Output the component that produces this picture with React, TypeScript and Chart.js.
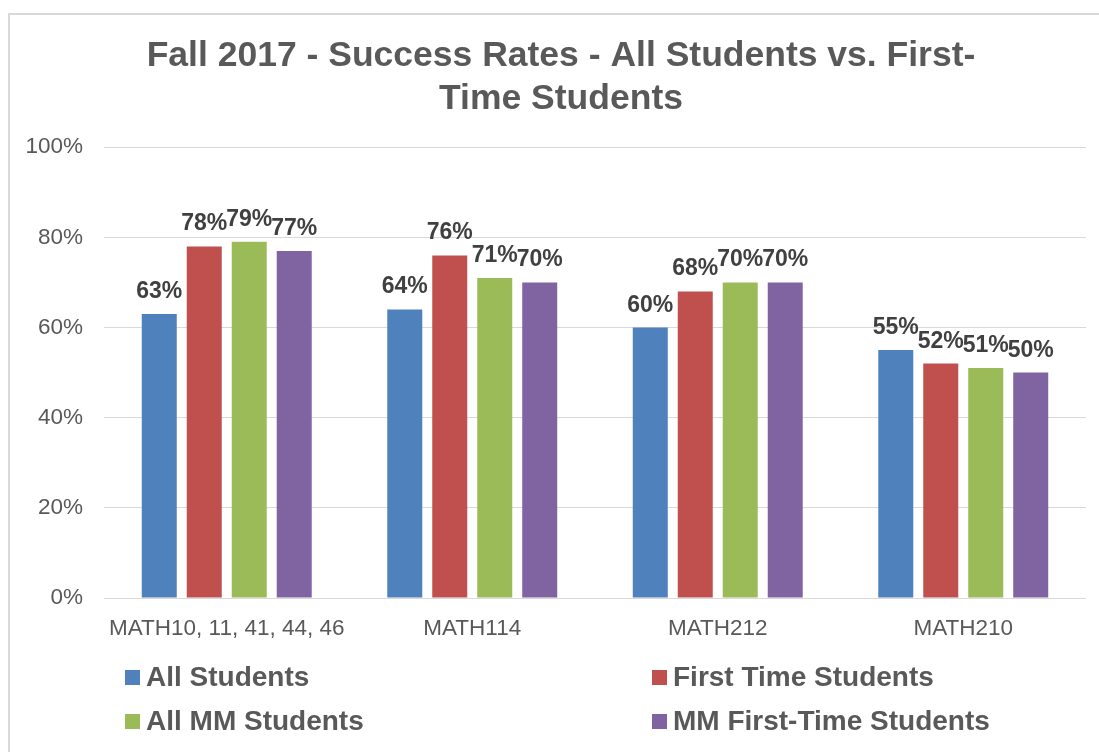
import React, { useEffect, useRef } from "react";
import { Chart, registerables } from "chart.js";

Chart.register(...registerables);

const categories = ["MATH10, 11, 41, 44, 46", "MATH114", "MATH212", "MATH210"];
const seriesNames = ["All Students", "First Time Students", "All MM Students", "MM First-Time Students"];
const allStudents = [63, 64, 60, 55];
const firstTimeStudents = [78, 76, 68, 52];
const allMMStudents = [79, 71, 70, 51];
const mmFirstTimeStudents = [77, 70, 70, 50];
const seriesColors = ["#4F81BD", "#C0504D", "#9BBB59", "#8064A2"];
const titleLines = ["Fall 2017 - Success Rates - All Students vs. First-", "Time Students"];
const yTicks = [0, 20, 40, 60, 80, 100];

const FONT = "'Liberation Sans', Arial, Helvetica, sans-serif";

const frameAndLabels = {
  id: "frameAndLabels",
  afterLayout(chart: any) {
    // shift the title's horizontal span so it is centred on the framed chart
    if (chart.titleBlock) {
      chart.titleBlock.left = 36;
    }
  },
  beforeDraw(chart: any) {
    const ctx = chart.ctx;
    ctx.save();
    ctx.fillStyle = "#ffffff";
    ctx.fillRect(0, 0, chart.width, chart.height);
    ctx.strokeStyle = "#d9d9d9";
    ctx.lineWidth = 2;
    ctx.strokeRect(9, 14, chart.width + 50, chart.height + 50);
    ctx.restore();
  },
  afterDatasetsDraw(chart: any) {
    const ctx = chart.ctx;
    ctx.save();
    ctx.font = `bold 23px ${FONT}`;
    ctx.fillStyle = "#404040";
    ctx.textAlign = "center";
    ctx.textBaseline = "alphabetic";
    chart.data.datasets.forEach((ds: any, i: number) => {
      const meta = chart.getDatasetMeta(i);
      meta.data.forEach((bar: any, j: number) => {
        ctx.fillText(`${ds.data[j]}%`, bar.x, bar.y - 16);
      });
    });
    ctx.restore();
  },
  afterDraw(chart: any) {
    const ctx = chart.ctx;
    ctx.save();
    ctx.font = `bold 28px ${FONT}`;
    ctx.textAlign = "left";
    ctx.textBaseline = "alphabetic";
    const cols = [125, 652];
    const rows = [686, 730];
    chart.data.datasets.forEach((ds: any, i: number) => {
      const x = cols[i % 2];
      const y = rows[Math.floor(i / 2)];
      ctx.fillStyle = ds.backgroundColor;
      ctx.fillRect(x, y - 16, 15, 15);
      ctx.fillStyle = "#595959";
      ctx.fillText(ds.label, x + 21, y);
    });
    ctx.restore();
  },
};

export default function App() {
  const ref = useRef<HTMLCanvasElement>(null);
  useEffect(() => {
    if (!ref.current) return;
    const seriesData = [allStudents, firstTimeStudents, allMMStudents, mmFirstTimeStudents];
    const chart = new Chart(ref.current, {
      type: "bar",
      data: {
        labels: categories,
        datasets: seriesNames.map((name, i) => ({
          label: name,
          data: seriesData[i],
          backgroundColor: seriesColors[i],
          borderWidth: 0,
          categoryPercentage: 0.733,
          barPercentage: 0.778,
        })),
      },
      options: {
        responsive: false,
        animation: false,
        devicePixelRatio: 1,
        layout: { padding: { left: 0, right: 13, top: 0, bottom: 0 } },
        plugins: {
          legend: { display: false },
          tooltip: { enabled: false },
          title: {
            display: true,
            text: titleLines,
            color: "#595959",
            font: { family: FONT, size: 35.5, weight: "bold", lineHeight: 1.2 },
            padding: { top: 35, bottom: 27 },
          },
        },
        scales: {
          x: {
            grid: { display: false },
            border: { display: false },
            ticks: {
              color: "#595959",
              font: { family: FONT, size: 22.5 },
              padding: 9,
              maxRotation: 0,
              autoSkip: false,
            },
            afterFit(scale: any) {
              scale.height = 154;
            },
          },
          y: {
            min: 0,
            max: 100,
            afterBuildTicks(scale: any) {
              scale.ticks = yTicks.map((v) => ({ value: v }));
            },
            grid: { color: "#d9d9d9", lineWidth: 1, drawTicks: false },
            border: { display: false },
            ticks: {
              color: "#595959",
              font: { family: FONT, size: 22.5 },
              padding: 21,
              callback: (v: any) => `${v}%`,
            },
            afterFit(scale: any) {
              scale.width = 104;
            },
          },
        },
      },
      plugins: [frameAndLabels],
    });
    return () => chart.destroy();
  }, []);
  return (
    <div style={{ position: "fixed", left: 0, top: 0, width: 1099, height: 752 }}>
      <canvas ref={ref} width={1099} height={752} style={{ width: 1099, height: 752, display: "block" }} />
    </div>
  );
}
